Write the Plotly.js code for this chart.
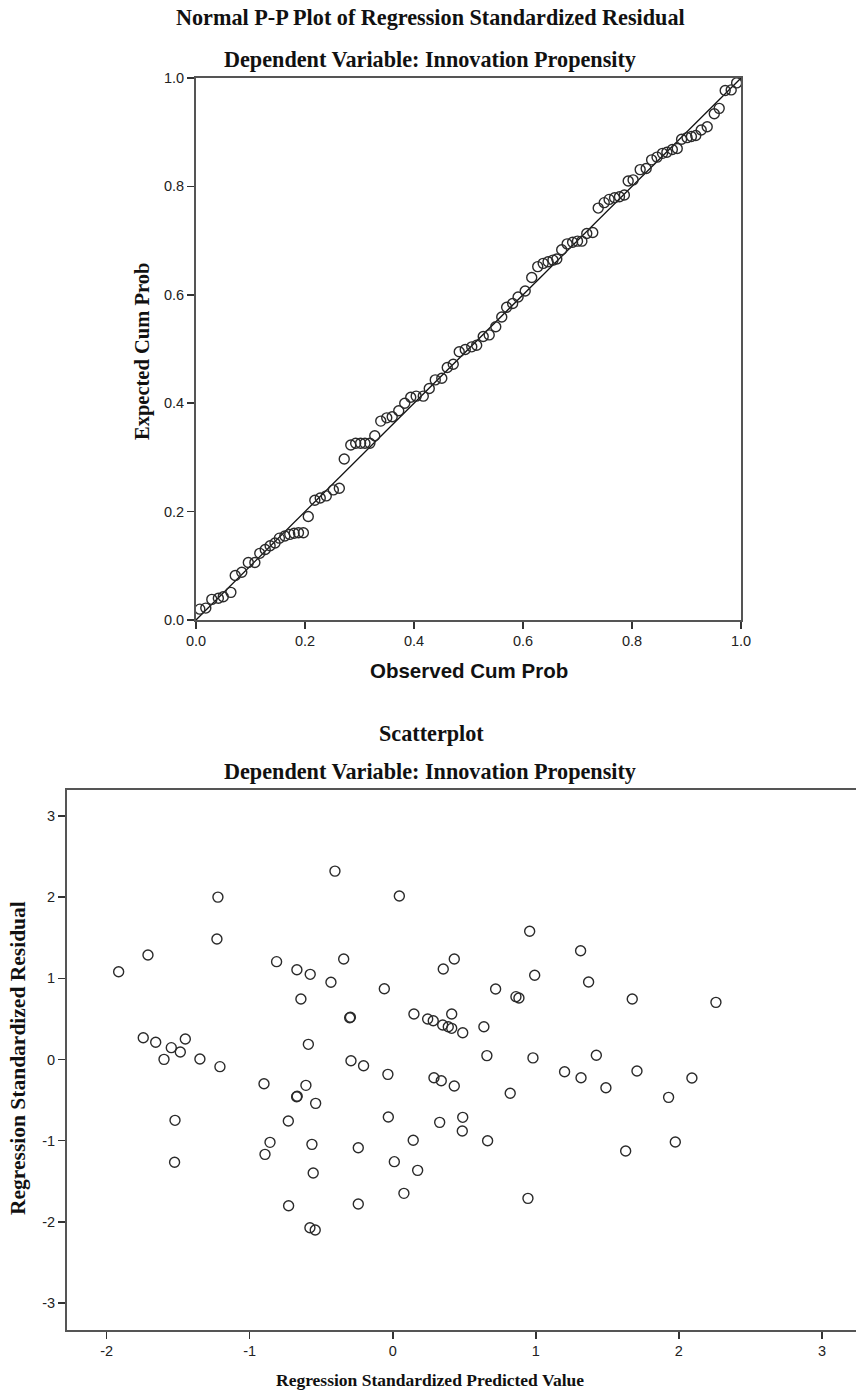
<!DOCTYPE html>
<html>
<head>
<meta charset="utf-8">
<script src="https://cdn.plot.ly/plotly-3.0.1.min.js"></script>
<style>
  html, body { margin: 0; padding: 0; background: #fff; }
  #chart { width: 856px; height: 1393px; }
</style>
</head>
<body>
<div id="chart"></div>
<script>
// ---------- P-P plot data ----------
const ppObserved = [0.007,0.018,0.029,0.041,0.050,0.064,0.072,0.084,0.096,0.108,0.117,0.127,0.136,0.145,0.153,0.163,0.172,0.180,0.188,0.197,
  0.206,0.218,0.228,0.239,0.252,0.263,0.272,0.284,0.293,0.302,0.310,0.319,0.328,0.339,0.350,0.360,0.372,0.383,0.394,0.404,
  0.417,0.428,0.439,0.451,0.461,0.472,0.483,0.494,0.506,0.515,0.527,0.538,0.550,0.561,0.570,0.581,0.591,0.604,0.616,0.627,
  0.637,0.646,0.655,0.662,0.671,0.681,0.691,0.700,0.708,0.717,0.728,0.738,0.749,0.758,0.768,0.777,0.786,0.793,0.802,0.815,
  0.826,0.836,0.846,0.856,0.864,0.874,0.883,0.891,0.901,0.909,0.917,0.927,0.938,0.951,0.960,0.971,0.982,0.992];
const ppExpected = [0.020,0.022,0.038,0.040,0.043,0.051,0.082,0.088,0.106,0.106,0.123,0.130,0.137,0.142,0.151,0.155,0.158,0.160,0.161,0.161,
  0.191,0.221,0.225,0.229,0.240,0.243,0.297,0.323,0.326,0.326,0.326,0.326,0.340,0.367,0.373,0.375,0.386,0.400,0.411,0.413,
  0.413,0.427,0.443,0.446,0.466,0.472,0.495,0.499,0.504,0.507,0.523,0.526,0.541,0.559,0.577,0.584,0.596,0.607,0.632,0.652,
  0.658,0.661,0.664,0.666,0.683,0.694,0.697,0.699,0.699,0.713,0.715,0.760,0.770,0.776,0.779,0.781,0.784,0.810,0.812,0.831,
  0.833,0.849,0.854,0.861,0.863,0.868,0.870,0.887,0.890,0.892,0.894,0.904,0.910,0.934,0.944,0.977,0.978,0.991];
const refLine = [0, 1];
const ppTicks = [0, 0.2, 0.4, 0.6, 0.8, 1.0];

// ---------- Scatterplot data ----------
const predValue = [-1.916,-1.711,-1.222,-1.229,-0.404,0.046,-0.812,-0.670,-0.577,-0.343,-0.432,-0.642,-0.059,-0.301,-0.296,
  0.148,0.244,0.283,0.353,0.430,0.412,0.349,0.388,0.412,0.489,0.637,0.957,1.313,0.992,1.369,0.719,0.861,0.882,1.674,2.259,
  0.658,0.980,1.423,1.201,1.316,1.490,1.707,2.091,1.928,0.821,0.288,0.339,0.430,0.328,0.489,0.486,0.663,1.628,1.975,0.945,
  -1.744,-1.657,-1.548,-1.485,-1.450,-0.590,-1.599,-1.348,-1.208,-0.292,-0.204,-0.034,-0.900,-0.607,-0.672,-0.668,-0.539,
  -1.522,-1.525,-0.730,-0.031,-0.858,-0.893,-0.565,-0.241,0.143,0.011,0.174,-0.556,0.078,-0.728,-0.241,-0.579,-0.542];
const residValue = [1.080,1.287,2.000,1.484,2.320,2.013,1.205,1.106,1.049,1.238,0.951,0.745,0.872,0.515,0.520,
  0.560,0.499,0.478,1.114,1.238,0.560,0.425,0.404,0.384,0.330,0.404,1.579,1.340,1.037,0.954,0.868,0.774,0.757,0.745,0.704,
  0.048,0.020,0.052,-0.150,-0.224,-0.347,-0.142,-0.228,-0.466,-0.416,-0.224,-0.261,-0.326,-0.774,-0.712,-0.881,-1.000,-1.127,-1.016,-1.710,
  0.268,0.212,0.146,0.092,0.252,0.187,0.002,0.006,-0.088,-0.015,-0.076,-0.183,-0.298,-0.318,-0.458,-0.452,-0.540,
  -0.749,-1.266,-0.757,-0.708,-1.020,-1.168,-1.045,-1.086,-0.995,-1.258,-1.365,-1.398,-1.648,-1.800,-1.780,-2.071,-2.100];
const scTicksX = [-2, -1, 0, 1, 2, 3];
const scTicksY = [-3, -2, -1, 0, 1, 2, 3];

// ---------- Text ----------
const ppTitle = 'Normal P-P Plot of Regression Standardized Residual';
const depVar = 'Dependent Variable: Innovation Propensity';
const ppXTitle = 'Observed Cum Prob';
const ppYTitle = 'Expected Cum Prob';
const scTitle = 'Scatterplot';
const scXTitle = 'Regression Standardized Predicted Value';
const scYTitle = 'Regression Standardized Residual';

// ---------- Layout helpers ----------
const W = 856, H = 1393;
const px = v => v / W;
const py = v => 1 - v / H;
const SERIF = '"Liberation Serif", "Times New Roman", serif';
const SANS = '"Liberation Sans", Arial, sans-serif';
const AXC = '#555';
const markerStyle = { symbol: 'circle-open', size: 10, color: '#2a2a2a', line: { width: 1.4, color: '#2a2a2a' } };

const traces = [
  { x: refLine, y: refLine, mode: 'lines', line: { color: '#111', width: 1.3 }, xaxis: 'x', yaxis: 'y', hoverinfo: 'skip' },
  { x: ppObserved, y: ppExpected, mode: 'markers', marker: markerStyle, cliponaxis: false, xaxis: 'x', yaxis: 'y' },
  { x: predValue, y: residValue, mode: 'markers', marker: markerStyle, cliponaxis: false, xaxis: 'x2', yaxis: 'y2' }
];

const axBase = {
  showgrid: false, zeroline: false, showline: true, linecolor: AXC, linewidth: 2,
  ticks: 'outside', ticklen: 7, tickwidth: 1.5, tickcolor: '#333',
  tickfont: { family: SANS, size: 14.5, color: '#222' }
};

function ann(text, x, y, size, family, angle) {
  return { text: text, x: px(x), y: py(y), xref: 'paper', yref: 'paper', xanchor: 'center', yanchor: 'middle',
    showarrow: false, textangle: angle || 0, font: { family: family, size: size, color: '#111' } };
}

const layout = {
  width: W, height: H,
  margin: { l: 0, r: 0, t: 0, b: 0, pad: 0 },
  paper_bgcolor: '#fff', plot_bgcolor: '#fff',
  showlegend: false,
  xaxis: Object.assign({}, axBase, { domain: [px(196), px(741)], range: [0, 1], mirror: true,
    tickvals: ppTicks, tickformat: '.1f', anchor: 'y' }),
  yaxis: Object.assign({}, axBase, { domain: [py(620), py(78)], range: [0, 1], mirror: true,
    tickvals: ppTicks, tickformat: '.1f', anchor: 'x' }),
  xaxis2: Object.assign({}, axBase, { domain: [px(67), 1], range: [-2.277, 3.238], mirror: true,
    tickvals: scTicksX, ticktext: scTicksX.map(String), anchor: 'y2' }),
  yaxis2: Object.assign({}, axBase, { domain: [py(1330), py(790)], range: [-3.331, 3.319], mirror: false,
    tickvals: scTicksY, ticktext: scTicksY.map(String), anchor: 'x2' }),
  annotations: [
    ann('<b>' + ppTitle + '</b>', 430, 18, 22.2, SERIF),
    ann('<b>' + depVar + '</b>', 430, 60, 22.2, SERIF),
    ann('<b>' + ppYTitle + '</b>', 142, 352, 20.5, SERIF, -90),
    ann('<b>' + ppXTitle + '</b>', 469, 671, 20.5, SANS),
    ann('<b>' + scTitle + '</b>', 431, 733, 22.2, SERIF),
    ann('<b>' + depVar + '</b>', 430, 771, 22.2, SERIF),
    ann('<b>' + scYTitle + '</b>', 18, 1058, 21.5, SERIF, -90),
    ann('<b>' + scXTitle + '</b>', 430, 1380, 17.5, SERIF)
  ]
};

Plotly.newPlot('chart', traces, layout, { displayModeBar: false, staticPlot: true });
</script>
</body>
</html>
